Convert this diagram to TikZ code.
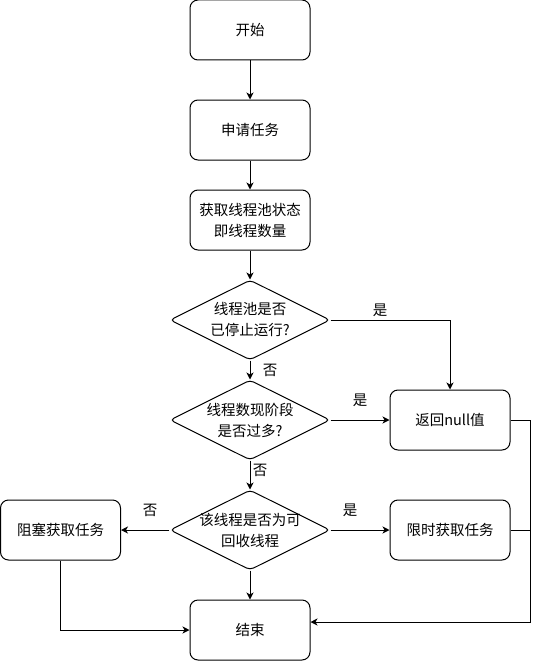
\documentclass[tikz,border=0pt]{standalone}
\usepackage{fontspec}
\newfontfamily\cjk{Noto Sans CJK SC}
\usetikzlibrary{shapes.geometric,arrows.meta}
\begin{document}
\begin{tikzpicture}[x=1pt,y=-1pt,
  every node/.style={font=\cjk\fontsize{14.5}{21}\selectfont, align=center},
  box/.style={draw, line width=1pt, rectangle, rounded corners=8pt, minimum width=120pt, minimum height=60pt, inner sep=0pt},
  dia/.style={draw, line width=1pt, diamond, rounded corners=4pt, minimum width=160pt, minimum height=80pt, inner sep=0pt, shape aspect=2},
  conn/.style={line width=1pt, -{Stealth[length=7pt,width=7pt,inset=2pt]}},
  plain/.style={line width=1pt},
  lbl/.style={inner sep=0pt}]
\useasboundingbox (0,0) rectangle (539,661);
\node[box] (start) at (250,30) {开始};
\node[box] (apply) at (250,130) {申请任务};
\node[box] (status) at (250,220) {获取线程池状态\\即线程数量};
\node[dia, label={[align=center]center:线程池是否\\已停止运行?}] (d1) at (250,320) {};
\node[dia, label={[align=center]center:线程数现阶段\\是否过多?}] (d2) at (250,420) {};
\node[dia, label={[align=center]center:该线程是否为可\\回收线程}] (d3) at (250,530) {};
\node[box] (null) at (450,420) {返回null值};
\node[box] (block) at (60.5,530) {阻塞获取任务};
\node[box] (timed) at (450,530) {限时获取任务};
\node[box] (end) at (250,630) {结束};
\draw[conn] (start) -- (apply);
\draw[conn] (apply) -- (status);
\draw[conn] (status) -- (d1);
\draw[conn] (d1) -- (d2);
\draw[conn] (d1.east) -| (null.north);
\draw[conn] (d2) -- (null);
\draw[conn] (d2) -- (d3);
\draw[conn] (d3) -- (block);
\draw[conn] (d3) -- (timed);
\draw[conn] (d3) -- (end);
\draw[conn] (block.south) |- (end.west);
\coordinate (rc) at (530,420);
\draw[conn] (null.east) -- (rc) |- ([yshift=8pt]end.east);
\draw[plain] (timed.east) -- (timed.east -| rc);
\node[lbl] (l1) at (380,310) {是};
\node[lbl] (l2) at (270,370) {否};
\node[lbl] (l3) at (360,400) {是};
\node[lbl] (l4) at (260,470) {否};
\node[lbl] (l5) at (150,510) {否};
\node[lbl] (l6) at (350,510) {是};
\end{tikzpicture}
\end{document}
